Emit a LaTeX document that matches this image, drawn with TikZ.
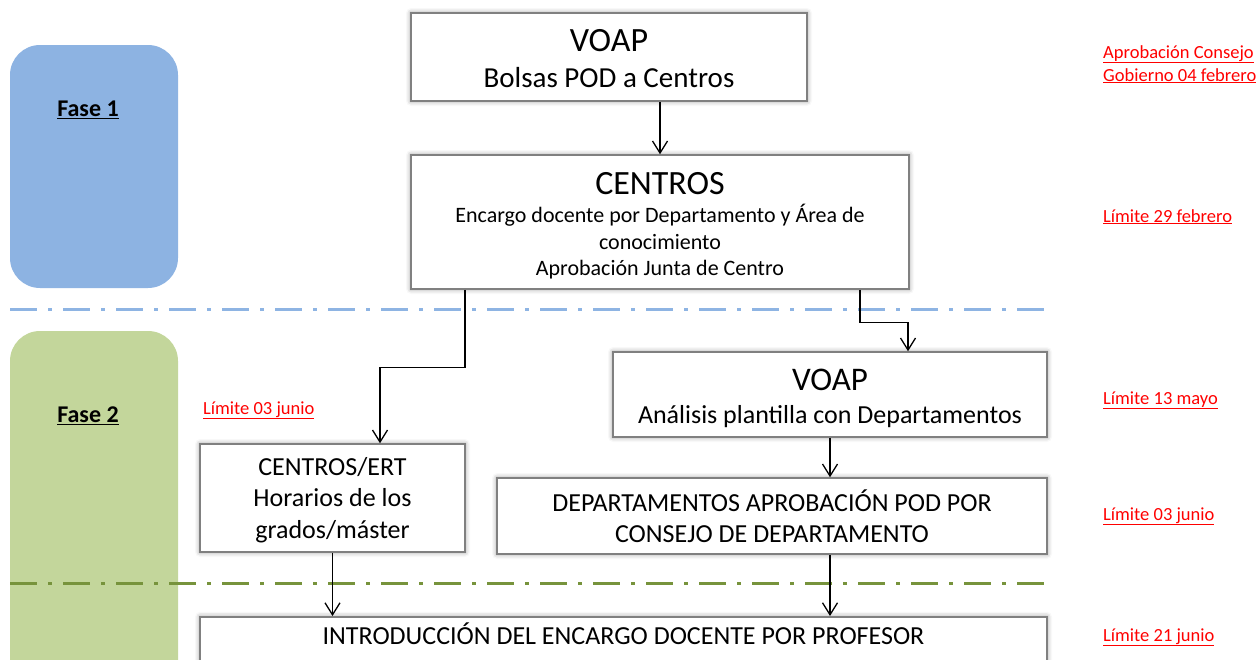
\documentclass[tikz,border=0pt]{standalone}
\usepackage{fontspec}
\setmainfont{Carlito}
\usetikzlibrary{arrows.meta}
\usetikzlibrary{shadows.blur}

\definecolor{faseblue}{HTML}{8DB3E2}
\definecolor{fasegreen}{HTML}{C3D69B}
\definecolor{lineblue}{HTML}{8EB4E3}
\definecolor{linegreen}{HTML}{77933C}
\definecolor{boxgray}{HTML}{808080}

\begin{document}
\begin{tikzpicture}[x=1pt, y=-1pt,
  box/.style={draw=boxgray, line width=1.5pt, fill=white, align=center, inner sep=0pt,
    blur shadow={shadow xshift=0pt, shadow yshift=0pt, shadow blur radius=5pt, shadow opacity=45}},
  arr/.style={-{Straight Barb[length=12pt, width=15pt]}, line width=1.3pt},
  limite/.style={anchor=base west, text=red, font=\fontsize{18.5}{22}\selectfont, inner sep=0pt},
  fase/.style={font=\bfseries\fontsize{24}{28}\selectfont},
  sep/.style={line width=3pt, dash pattern=on 27pt off 11pt on 4pt off 11pt}]
\useasboundingbox (0,0) rectangle (1259,659);

% fases
\fill[faseblue] (10,45) [rounded corners=30pt] rectangle (178,288);
\fill[fasegreen] (10,331) [rounded corners=30pt] rectangle (178,720);
\node[fase] (fase1) at (88,110) {\underline{Fase 1}};
\node[fase] (fase2) at (88,416) {\underline{Fase 2}};

% separadores
\draw[sep, lineblue] (10,309) -- (1047,309);
\draw[sep, linegreen] (10,583) -- (1047,583);

% cajas
\node[box, minimum width=396pt, minimum height=88pt, font=\fontsize{29}{36}\selectfont] (voap1) at (609,57)
  {\rule{0pt}{26pt}{\fontsize{34}{36}\selectfont VOAP}\\Bolsas POD a Centros};
\node[box, minimum width=498pt, minimum height=134pt, font=\fontsize{22}{26.5}\selectfont] (centros) at (660,222)
  {\rule{0pt}{30pt}{\fontsize{34}{36}\selectfont CENTROS}\\[2pt]Encargo docente por Departamento y Área de\\conocimiento\\Aprobación Junta de Centro};
\node[box, minimum width=434pt, minimum height=85pt, font=\fontsize{26}{33}\selectfont] (voap2) at (830,394.5)
  {\rule{0pt}{30pt}{\fontsize{33}{36}\selectfont VOAP}\\Análisis plantilla con Departamentos};
\node[box, minimum width=265pt, minimum height=108pt, font=\fontsize{26}{31.5}\selectfont] (ert) at (332.5,498)
  {\rule{0pt}{22pt}CENTROS/ERT\\Horarios de los\\grados/máster};
\node[box, minimum width=550pt, minimum height=76pt, font=\fontsize{26}{31}\selectfont] (dptos) at (772,516)
  {DEPARTAMENTOS APROBACIÓN POD POR\\CONSEJO DE DEPARTAMENTO};
\node[box, anchor=north, minimum width=847pt, inner ysep=6pt, text height=22pt, text depth=40pt,
  font=\fontsize{26}{31}\selectfont] (intro) at (623.5,616)
  {INTRODUCCIÓN DEL ENCARGO DOCENTE POR PROFESOR};

% flechas
\draw[arr] (voap1.south -| centros.north) -- (centros.north);
\draw[arr] ([xshift=-195pt]centros.south) -- ++(0,78) -| ([xshift=47.5pt]ert.north);
\draw[arr] ([xshift=200pt]centros.south) -- ++(0,33) -| ([xshift=78pt]voap2.north);
\draw[arr] (voap2.south) -- (voap2.south |- dptos.north);
\draw[arr] (ert.south) -- (ert.south |- intro.north);
\draw[arr] (dptos.south -| voap2.south) -- (intro.north -| voap2.south);

% fechas
\node[limite] (f1a) at (1103,58) {\underline{Aprobación Consejo}};
\node[limite] (f1b) at (1103,81) {\underline{Gobierno 04 febrero}};
\node[limite] (f2) at (1103,222) {\underline{Límite 29 febrero}};
\node[limite] (f3) at (1103,404) {\underline{Límite 13 mayo}};
\node[limite] (f4) at (1103,520) {\underline{Límite 03 junio}};
\node[limite] (f5) at (1103,641) {\underline{Límite 21 junio}};
\node[limite] (f6) at (203,414) {\underline{Límite 03 junio}};
\end{tikzpicture}
\end{document}
